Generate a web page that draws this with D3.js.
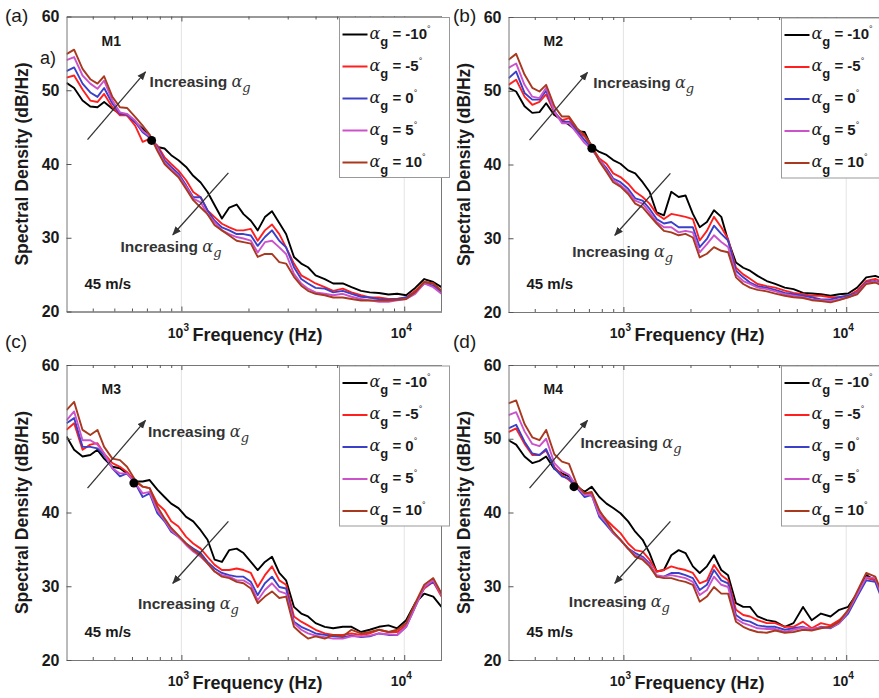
<!DOCTYPE html>
<html>
<head>
<meta charset="utf-8">
<script src="https://cdn.jsdelivr.net/npm/d3@7"></script>
<style>
  body { margin: 0; background: #fff; }
  text { font-family: "Liberation Sans", Arial, sans-serif; fill: #1a1a1a; }
</style>
</head>
<body>
<script>
// frequency grid (Hz) shared by every curve
var freq = [305, 330, 360, 390, 420, 450, 490, 530, 570, 620, 670, 720, 780, 840, 900, 970, 1050, 1130, 1220, 1310,
  1410, 1520, 1640, 1770, 1900, 2050, 2200, 2370, 2550, 2750, 2950, 3200, 3450, 3700, 4000, 4400, 4800, 5300, 5800,
  6400, 7000, 7700, 8500, 9300, 10200, 11200, 12300, 13500, 14700]

var angles = ["-10", "-5", "0", "5", "10"]
var colors = ["#000000", "#ff1f1f", "#3a40c8", "#cc52cc", "#a8391f"]

// spectral density, dB/Hz, one array per angle
var m1_n10 = [51.0, 50.3, 48.6, 47.8, 47.7, 48.4, 47.5, 46.8, 46.6, 45.7, 44.8, 43.8, 42.3, 42.1, 41.2, 40.5, 39.6, 38.4, 37.5, 36.2, 34.4, 32.6, 34.1, 34.5, 33.2, 32.3, 31.0, 32.8, 33.6, 32.0, 30.5, 27.4, 26.5, 26.0, 24.9, 24.4, 23.8, 23.8, 23.3, 22.8, 22.6, 22.5, 22.3, 22.4, 22.2, 23.2, 24.4, 24.0, 23.3]
var m1_n5 = [51.7, 52.0, 50.1, 48.6, 48.4, 49.5, 47.7, 46.6, 46.6, 45.2, 43.0, 43.4, 42.5, 40.9, 40.0, 39.1, 37.8, 36.2, 35.5, 33.7, 32.8, 31.9, 31.4, 31.0, 31.0, 31.2, 29.6, 31.0, 31.8, 30.5, 28.7, 26.5, 24.9, 24.4, 23.8, 23.3, 22.8, 23.1, 22.6, 22.2, 21.9, 21.9, 21.7, 21.7, 21.9, 22.8, 24.0, 23.8, 22.8]
var m1_0 = [52.6, 53.1, 50.9, 49.7, 49.1, 50.3, 48.2, 46.8, 46.7, 45.7, 44.3, 43.6, 42.3, 40.5, 39.6, 38.7, 37.1, 35.5, 35.5, 33.7, 32.3, 31.4, 31.0, 30.5, 30.5, 30.3, 28.9, 30.1, 31.0, 29.6, 28.7, 26.0, 24.4, 23.8, 23.2, 23.1, 22.6, 22.8, 22.4, 22.0, 21.9, 21.7, 21.6, 21.7, 21.9, 22.6, 23.8, 23.5, 22.6]
var m1_p5 = [54.1, 54.5, 52.0, 50.9, 50.2, 51.3, 48.6, 47.0, 46.8, 45.9, 44.5, 43.8, 42.1, 40.2, 39.3, 38.4, 36.9, 35.3, 34.8, 33.2, 32.1, 31.0, 30.5, 30.1, 29.9, 29.6, 28.0, 29.4, 29.6, 28.7, 27.8, 25.1, 23.8, 23.1, 22.6, 22.4, 22.2, 22.4, 22.0, 21.7, 21.5, 21.3, 21.3, 21.5, 21.7, 22.4, 23.8, 23.3, 22.4]
var m1_p10 = [54.9, 55.5, 52.9, 51.5, 50.9, 51.9, 49.1, 47.7, 47.6, 46.4, 45.2, 44.0, 41.8, 40.0, 39.1, 38.2, 36.6, 35.1, 34.1, 33.2, 31.7, 31.0, 30.3, 29.6, 29.4, 29.2, 27.4, 27.8, 27.8, 26.7, 26.5, 24.7, 23.5, 22.8, 22.4, 22.2, 21.9, 21.9, 21.7, 21.5, 21.5, 21.5, 21.5, 21.6, 21.7, 22.6, 24.0, 23.8, 22.8]

var m2_n10 = [50.4, 49.9, 47.9, 47.0, 47.1, 48.3, 46.7, 46.0, 45.4, 44.5, 44.4, 42.4, 41.7, 41.3, 40.6, 40.1, 39.2, 38.8, 37.6, 36.3, 33.5, 33.1, 36.3, 35.6, 35.8, 33.3, 31.5, 32.2, 33.8, 32.9, 29.7, 26.7, 26.0, 25.6, 24.9, 24.2, 23.8, 23.3, 23.1, 22.6, 22.5, 22.4, 22.2, 22.4, 22.5, 23.3, 24.7, 24.9, 24.5]
var m2_n5 = [50.8, 51.5, 49.2, 48.1, 48.5, 49.5, 47.0, 46.0, 46.3, 44.5, 43.8, 42.4, 40.8, 40.1, 38.8, 38.3, 37.4, 36.3, 35.6, 34.7, 33.3, 32.6, 33.3, 33.1, 32.9, 32.6, 29.7, 31.0, 32.9, 31.5, 29.9, 26.0, 25.1, 24.5, 23.8, 23.5, 23.3, 22.9, 22.6, 22.4, 22.2, 22.2, 22.0, 22.0, 22.2, 22.9, 24.2, 24.5, 24.0]
var m2_0 = [51.7, 52.6, 49.7, 48.8, 48.8, 50.0, 47.2, 45.8, 45.8, 44.5, 43.3, 42.2, 40.6, 39.5, 38.1, 37.6, 36.7, 35.4, 35.1, 34.0, 32.6, 32.0, 32.2, 31.5, 31.5, 31.5, 28.8, 29.9, 31.7, 30.6, 29.7, 25.6, 24.7, 24.0, 23.5, 23.3, 23.0, 22.6, 22.4, 22.2, 22.0, 21.7, 21.7, 22.0, 22.2, 22.6, 24.0, 24.2, 23.8]
var m2_p5 = [53.1, 53.7, 50.8, 49.2, 49.0, 50.4, 47.2, 45.6, 45.6, 44.2, 42.9, 42.1, 40.6, 39.2, 37.9, 37.2, 36.3, 35.1, 34.7, 33.5, 32.2, 31.5, 31.5, 30.8, 31.0, 30.8, 28.1, 29.2, 30.4, 29.5, 28.8, 25.1, 24.2, 23.8, 23.3, 23.1, 22.8, 22.4, 22.2, 22.0, 21.7, 21.6, 21.5, 21.7, 22.0, 22.5, 23.9, 24.1, 23.7]
var m2_p10 = [54.2, 55.0, 52.2, 50.4, 49.9, 50.8, 47.9, 46.5, 46.5, 44.9, 44.0, 42.6, 40.4, 39.0, 37.6, 37.0, 36.0, 34.7, 34.2, 33.1, 32.0, 31.0, 30.8, 30.4, 30.6, 30.1, 27.4, 27.9, 28.8, 28.3, 28.1, 24.7, 23.8, 23.3, 23.0, 22.8, 22.5, 22.2, 22.0, 21.9, 21.6, 21.5, 21.3, 21.6, 22.0, 22.4, 23.8, 24.0, 23.5]

var m3_n10 = [50.3, 48.5, 47.6, 47.8, 48.5, 47.3, 46.2, 46.0, 45.3, 44.2, 44.2, 44.4, 43.1, 42.1, 41.2, 40.6, 39.4, 38.8, 37.6, 36.3, 33.6, 33.3, 34.9, 35.1, 34.5, 33.3, 32.2, 33.3, 34.0, 31.8, 30.8, 27.2, 26.3, 25.9, 25.0, 24.5, 24.3, 24.5, 24.5, 23.8, 24.1, 24.5, 24.7, 24.3, 25.4, 27.7, 29.0, 28.6, 27.2]
var m3_n5 = [51.2, 52.1, 48.5, 49.2, 49.4, 48.0, 46.7, 46.2, 45.5, 44.2, 43.5, 43.3, 41.2, 40.3, 38.8, 38.1, 36.7, 35.8, 35.1, 34.0, 32.9, 32.2, 32.2, 32.4, 32.2, 31.8, 29.9, 31.5, 32.7, 30.8, 30.2, 25.9, 25.2, 24.7, 24.1, 23.6, 23.4, 23.4, 23.6, 23.4, 23.6, 24.1, 23.8, 23.8, 24.7, 27.5, 29.7, 30.6, 28.6]
var m3_0 = [52.1, 52.8, 48.9, 48.9, 48.7, 47.8, 46.0, 44.9, 45.3, 44.0, 42.1, 42.6, 39.9, 38.8, 37.4, 36.7, 35.8, 35.1, 34.5, 33.3, 32.4, 31.8, 31.5, 31.3, 31.3, 30.6, 28.8, 30.4, 31.3, 29.9, 29.7, 25.2, 24.5, 24.1, 23.6, 23.4, 23.2, 23.1, 23.3, 23.1, 23.2, 23.6, 23.4, 23.4, 24.5, 27.2, 29.9, 30.6, 29.0]
var m3_p5 = [52.5, 53.7, 49.8, 49.8, 49.2, 48.0, 46.0, 45.3, 45.3, 44.0, 42.6, 42.8, 40.3, 39.0, 37.6, 36.7, 35.6, 34.7, 34.0, 33.1, 32.0, 31.5, 31.3, 30.8, 30.8, 30.2, 28.1, 29.5, 30.4, 29.3, 29.0, 25.0, 24.1, 23.6, 23.3, 23.1, 22.9, 22.9, 23.2, 23.2, 23.3, 23.6, 23.5, 23.4, 24.5, 27.2, 29.9, 30.8, 28.8]
var m3_p10 = [53.9, 55.0, 51.2, 50.5, 51.2, 48.9, 47.3, 47.1, 46.2, 44.4, 43.5, 43.3, 40.8, 39.2, 37.9, 36.9, 35.8, 34.9, 34.2, 33.1, 32.0, 31.3, 31.1, 30.6, 30.4, 29.7, 27.7, 28.6, 29.3, 28.4, 28.6, 24.5, 23.6, 22.9, 23.2, 22.9, 23.4, 23.2, 24.1, 23.6, 23.8, 24.1, 23.8, 24.1, 25.0, 27.7, 30.2, 31.1, 29.0]

var m4_n10 = [49.8, 49.2, 47.6, 46.7, 47.0, 47.6, 45.9, 45.3, 44.9, 43.5, 42.8, 43.5, 42.1, 41.2, 40.6, 39.9, 38.8, 37.4, 36.3, 34.5, 32.0, 32.2, 34.2, 34.9, 34.5, 32.7, 31.8, 32.7, 34.2, 32.2, 31.5, 27.7, 27.2, 27.2, 25.9, 25.4, 25.2, 24.5, 25.0, 27.2, 25.4, 26.3, 25.9, 26.8, 27.2, 29.0, 31.5, 30.8, 28.4]
var m4_n5 = [50.9, 51.4, 49.3, 47.8, 47.8, 48.4, 46.2, 45.1, 44.4, 43.4, 42.6, 42.6, 40.1, 39.0, 38.1, 37.2, 35.8, 34.9, 34.7, 33.6, 32.0, 32.2, 32.7, 32.4, 32.2, 31.8, 30.4, 30.8, 32.9, 31.5, 30.8, 26.8, 26.1, 25.9, 25.4, 25.0, 25.0, 24.5, 24.5, 25.2, 24.3, 25.0, 24.7, 25.4, 26.6, 28.8, 31.1, 30.8, 28.4]
var m4_0 = [51.4, 51.9, 49.6, 48.0, 47.8, 48.6, 46.0, 44.9, 44.6, 43.3, 42.1, 42.4, 39.4, 38.3, 37.2, 36.3, 35.1, 34.5, 34.0, 33.1, 31.3, 31.3, 31.8, 31.8, 31.5, 31.1, 29.5, 30.2, 32.2, 30.8, 30.4, 26.1, 25.4, 25.2, 24.7, 24.5, 24.5, 24.1, 24.3, 24.5, 24.1, 24.5, 24.3, 25.0, 26.3, 28.6, 30.8, 30.6, 27.7]
var m4_p5 = [53.2, 53.6, 51.0, 49.3, 49.0, 50.0, 46.7, 45.6, 45.1, 43.4, 42.4, 42.4, 39.7, 38.6, 37.2, 36.3, 35.1, 34.2, 33.8, 32.9, 31.5, 31.3, 31.5, 31.3, 31.1, 30.6, 28.8, 29.5, 31.3, 30.2, 29.9, 25.6, 25.0, 24.7, 24.3, 24.2, 24.2, 23.8, 24.1, 24.4, 24.2, 24.4, 24.4, 25.0, 26.6, 28.9, 31.2, 31.1, 28.1]
var m4_p10 = [54.8, 55.2, 52.0, 50.2, 49.8, 51.2, 47.9, 46.9, 46.6, 43.7, 42.6, 42.8, 40.3, 38.8, 37.4, 36.3, 35.1, 34.0, 33.6, 32.7, 31.3, 31.1, 31.1, 30.8, 30.6, 30.2, 27.9, 28.6, 29.9, 29.0, 29.0, 25.2, 24.5, 24.1, 23.8, 23.7, 24.0, 23.7, 23.8, 24.1, 24.0, 24.3, 24.5, 25.2, 26.8, 29.3, 31.8, 31.3, 28.6]

var yTicks = [20, 30, 40, 50, 60]
var xTicks = [1000, 10000]
var xMinor = [400, 500, 600, 700, 800, 900, 2000, 3000, 4000, 5000, 6000, 7000, 8000, 9000]

// annotation anchors in data units [Hz, dB]
var upArrow = [[379, 43.3], [690, 52.5]]
var downArrow = [[1625, 38.8], [915, 30.4]]

var panels = [
  {tag: "(a)", name: "M1", left: 66.5, top: 16.5, series: [m1_n10, m1_n5, m1_0, m1_p5, m1_p10],
    dot: [735, 43.2], upText: [720, 50.4], downText: [533, 28.1]},
  {tag: "(b)", name: "M2", left: 508.5, top: 17, series: [m2_n10, m2_n5, m2_0, m2_p5, m2_p10],
    dot: [722, 42.2], upText: [732, 50.4], downText: [589, 27.4]},
  {tag: "(c)", name: "M3", left: 66.5, top: 365, series: [m3_n10, m3_n5, m3_0, m3_p5, m3_p10],
    dot: [612, 44.0], upText: [708, 50.3], downText: [638, 26.9]},
  {tag: "(d)", name: "M4", left: 508.5, top: 365, series: [m4_n10, m4_n5, m4_0, m4_p5, m4_p10],
    dot: [600, 43.5], upText: [642, 48.8], downText: [569, 27.2]}
]

var W = 375, H = 295

var stage = d3.select("body").append("svg")
  .attr("width", 879)
  .attr("height", 698)

stage.append("defs").append("marker")
  .attr("id", "head")
  .attr("viewBox", "0 0 10 10")
  .attr("refX", 9).attr("refY", 5)
  .attr("markerWidth", 9).attr("markerHeight", 9)
  .attr("markerUnits", "userSpaceOnUse")
  .attr("orient", "auto")
  .append("path")
  .attr("d", "M0,1 L10,5 L0,9 Z")
  .style("fill", "#333")

var x = d3.scaleLog().domain([305, 14700]).range([0, W])
var y = d3.scaleLinear().domain([20, 60]).range([H, 0])
var line = d3.line()
  .x(function(d){ return x(d[0]) })
  .y(function(d){ return y(d[1]) })

panels.forEach(drawPanel)

// stray sub-label left over in the original figure
stage.append("text").attr("x", 40).attr("y", 64)
  .style("font-size", "18px").text("a)")

function drawPanel(p, i){
  var g = stage.append("g").attr("transform", "translate(" + p.left + "," + p.top + ")")

  g.append("clipPath").attr("id", "clip" + i)
    .append("rect").attr("width", W).attr("height", H)

  // faint decade grid
  g.selectAll(".grid").data(xTicks).enter().append("line")
    .attr("x1", function(d){ return x(d) }).attr("x2", function(d){ return x(d) })
    .attr("y1", 0).attr("y2", H)
    .style("stroke", "#e4e4e4").style("stroke-width", 1)

  var plot = g.append("g").attr("clip-path", "url(#clip" + i + ")")
  p.series.forEach(function(vals, k){
    plot.append("path")
      .datum(freq.map(function(f, j){ return [f, vals[j]] }))
      .attr("d", line)
      .style("fill", "none")
      .style("stroke", colors[k])
      .style("stroke-width", 1.9)
      .style("stroke-linejoin", "round")
  })

  plot.append("circle")
    .attr("cx", x(p.dot[0])).attr("cy", y(p.dot[1])).attr("r", 4.5)
    .style("fill", "#000")

  ;[upArrow, downArrow].forEach(function(a){
    g.append("line")
      .attr("x1", x(a[0][0])).attr("y1", y(a[0][1]))
      .attr("x2", x(a[1][0])).attr("y2", y(a[1][1]))
      .style("stroke", "#333").style("stroke-width", 1.3)
      .attr("marker-end", "url(#head)")
  })

  ;[p.upText, p.downText].forEach(function(t){
    var txt = g.append("text")
      .attr("x", x(t[0])).attr("y", y(t[1]))
      .style("font-size", "15.5px").style("font-weight", "bold").style("fill", "#333")
    txt.append("tspan").text("Increasing ")
    txt.append("tspan").text("α")
      .style("font-family", "'DejaVu Serif', serif").style("font-style", "italic")
      .style("font-weight", "normal").style("font-size", "16px")
    txt.append("tspan").text("g").attr("dy", 5)
      .style("font-family", "'DejaVu Serif', serif").style("font-style", "italic")
      .style("font-weight", "normal").style("font-size", "13px")
  })

  // axes
  var axes = g.append("g").attr("class", "axes")
  axes.append("g").attr("transform", "translate(0," + H + ")")
    .call(d3.axisBottom(x).tickValues(xTicks).tickSizeInner(-5).tickSizeOuter(0).tickFormat(""))
  axes.append("g").attr("transform", "translate(0," + H + ")")
    .call(d3.axisBottom(x).tickValues(xMinor).tickSizeInner(-3).tickSizeOuter(0).tickFormat(""))
  axes.append("g")
    .call(d3.axisTop(x).tickValues(xTicks).tickSizeInner(-5).tickSizeOuter(0).tickFormat(""))
  axes.append("g")
    .call(d3.axisTop(x).tickValues(xMinor).tickSizeInner(-3).tickSizeOuter(0).tickFormat(""))
  var yAx = axes.append("g")
    .call(d3.axisLeft(y).tickValues(yTicks).tickSizeInner(-5).tickSizeOuter(0).tickPadding(7))
  yAx.selectAll(".tick text")
    .style("font-family", "'Liberation Sans', Arial, sans-serif")
    .style("font-size", "16px").style("font-weight", "bold").style("fill", "#1a1a1a")
  axes.append("line").attr("x1", W).attr("x2", W).attr("y1", 0).attr("y2", H)
  axes.selectAll("path.domain, line").style("stroke", "#777")
  axes.selectAll(".tick line").style("stroke", "#555")

  xTicks.forEach(function(v){
    var t = g.append("text").attr("x", x(v) - 3).attr("y", H + 26)
      .attr("text-anchor", "middle")
      .style("font-size", "14px").style("font-weight", "bold")
    t.append("tspan").text("10")
    t.append("tspan").text(String(Math.log10(v))).attr("dy", -7).style("font-size", "10px")
  })

  g.append("text").attr("x", x(1000) + 11).attr("y", H + 29)
    .style("font-size", "18px").style("font-weight", "bold")
    .text("Frequency (Hz)")

  g.append("text")
    .attr("transform", "translate(-39," + (H / 2) + ") rotate(-90)")
    .attr("text-anchor", "middle")
    .style("font-size", "17.5px").style("font-weight", "bold")
    .text("Spectral Density (dB/Hz)")

  g.append("text").attr("x", 35).attr("y", 29)
    .style("font-size", "14px").style("font-weight", "bold").text(p.name)
  g.append("text").attr("x", 18).attr("y", H - 23)
    .style("font-size", "15px").style("font-weight", "bold").text("45 m/s")

  // legend
  var leg = g.append("g").attr("transform", "translate(273,1)")
  leg.append("rect").attr("width", 110).attr("height", 160)
    .style("fill", "#fff").style("stroke", "#999").style("stroke-width", 1)
  angles.forEach(function(a, k){
    var ly = 17 + 32 * k
    leg.append("line").attr("x1", 3).attr("x2", 28).attr("y1", ly).attr("y2", ly)
      .style("stroke", colors[k]).style("stroke-width", 2)
    var t = leg.append("text").attr("x", 30).attr("y", ly + 4)
      .style("font-size", "15px").style("font-weight", "bold")
    t.append("tspan").text("α")
      .style("font-family", "'DejaVu Serif', serif").style("font-style", "italic")
      .style("font-weight", "normal").style("font-size", "16px")
    t.append("tspan").text("g").attr("dy", 7).style("font-size", "13px")
    t.append("tspan").text(" = " + a).attr("dy", -7)
    t.append("tspan").text("°").attr("dy", -7).style("font-size", "9px").style("font-weight", "normal")
  })

  // panel tag
  stage.append("text")
    .attr("x", i % 2 ? 453 : 5).attr("y", i < 2 ? 22 : 348)
    .style("font-size", "19px").text(p.tag)
}
</script>
</body>
</html>
